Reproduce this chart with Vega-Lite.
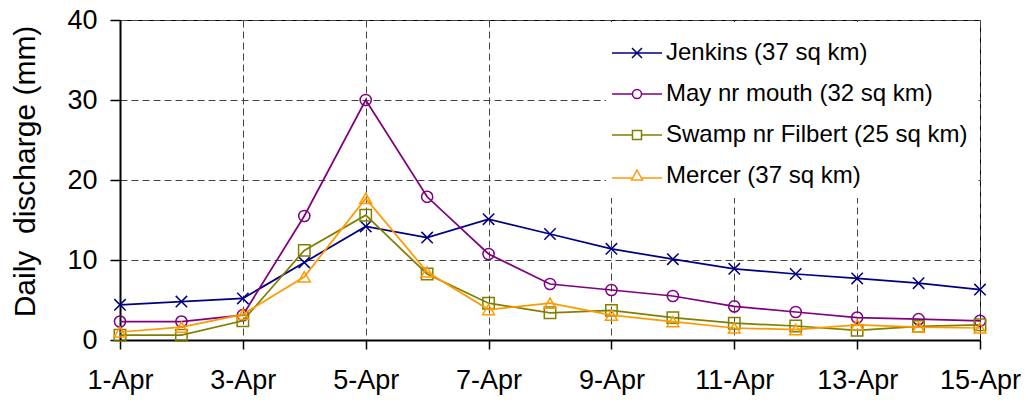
{
  "$schema": "https://vega.github.io/schema/vega-lite/v6.json",
  "width": 860,
  "height": 320,
  "autosize": {"type": "none"},
  "padding": {"left": 120, "top": 20, "right": 54, "bottom": 60},
  "background": "white",
  "config": {
    "view": {"stroke": "black", "strokeWidth": 1},
    "axis": {
      "domainColor": "black",
      "domainWidth": 2,
      "tickColor": "black",
      "tickWidth": 1.5,
      "gridColor": "#444",
      "gridWidth": 1,
      "gridDash": [7, 4],
      "labelFont": "Liberation Sans",
      "labelFontSize": 27,
      "labelColor": "black",
      "titleFont": "Liberation Sans",
      "titleColor": "black",
      "titleFontWeight": "normal"
    }
  },
  "data": {
    "values": [
      {"d": 1, "s": "Jenkins (37 sq km)", "v": 4.4},
      {"d": 2, "s": "Jenkins (37 sq km)", "v": 4.8},
      {"d": 3, "s": "Jenkins (37 sq km)", "v": 5.2},
      {"d": 4, "s": "Jenkins (37 sq km)", "v": 9.7},
      {"d": 5, "s": "Jenkins (37 sq km)", "v": 14.2},
      {"d": 6, "s": "Jenkins (37 sq km)", "v": 12.8},
      {"d": 7, "s": "Jenkins (37 sq km)", "v": 15.1},
      {"d": 8, "s": "Jenkins (37 sq km)", "v": 13.25},
      {"d": 9, "s": "Jenkins (37 sq km)", "v": 11.4},
      {"d": 10, "s": "Jenkins (37 sq km)", "v": 10.1},
      {"d": 11, "s": "Jenkins (37 sq km)", "v": 8.9},
      {"d": 12, "s": "Jenkins (37 sq km)", "v": 8.25},
      {"d": 13, "s": "Jenkins (37 sq km)", "v": 7.7},
      {"d": 14, "s": "Jenkins (37 sq km)", "v": 7.1},
      {"d": 15, "s": "Jenkins (37 sq km)", "v": 6.3},
      {"d": 1, "s": "May nr mouth (32 sq km)", "v": 2.3},
      {"d": 2, "s": "May nr mouth (32 sq km)", "v": 2.3},
      {"d": 3, "s": "May nr mouth (32 sq km)", "v": 3.1},
      {"d": 4, "s": "May nr mouth (32 sq km)", "v": 15.5},
      {"d": 5, "s": "May nr mouth (32 sq km)", "v": 30.0},
      {"d": 6, "s": "May nr mouth (32 sq km)", "v": 17.9},
      {"d": 7, "s": "May nr mouth (32 sq km)", "v": 10.75},
      {"d": 8, "s": "May nr mouth (32 sq km)", "v": 7.0},
      {"d": 9, "s": "May nr mouth (32 sq km)", "v": 6.25},
      {"d": 10, "s": "May nr mouth (32 sq km)", "v": 5.5},
      {"d": 11, "s": "May nr mouth (32 sq km)", "v": 4.2},
      {"d": 12, "s": "May nr mouth (32 sq km)", "v": 3.5},
      {"d": 13, "s": "May nr mouth (32 sq km)", "v": 2.8},
      {"d": 14, "s": "May nr mouth (32 sq km)", "v": 2.6},
      {"d": 15, "s": "May nr mouth (32 sq km)", "v": 2.4},
      {"d": 1, "s": "Swamp nr Filbert (25 sq km)", "v": 0.6},
      {"d": 2, "s": "Swamp nr Filbert (25 sq km)", "v": 0.6},
      {"d": 3, "s": "Swamp nr Filbert (25 sq km)", "v": 2.4},
      {"d": 4, "s": "Swamp nr Filbert (25 sq km)", "v": 11.2},
      {"d": 5, "s": "Swamp nr Filbert (25 sq km)", "v": 15.6},
      {"d": 6, "s": "Swamp nr Filbert (25 sq km)", "v": 8.25},
      {"d": 7, "s": "Swamp nr Filbert (25 sq km)", "v": 4.6},
      {"d": 8, "s": "Swamp nr Filbert (25 sq km)", "v": 3.4},
      {"d": 9, "s": "Swamp nr Filbert (25 sq km)", "v": 3.7},
      {"d": 10, "s": "Swamp nr Filbert (25 sq km)", "v": 2.8},
      {"d": 11, "s": "Swamp nr Filbert (25 sq km)", "v": 2.1},
      {"d": 12, "s": "Swamp nr Filbert (25 sq km)", "v": 1.75},
      {"d": 13, "s": "Swamp nr Filbert (25 sq km)", "v": 1.2},
      {"d": 14, "s": "Swamp nr Filbert (25 sq km)", "v": 1.7},
      {"d": 15, "s": "Swamp nr Filbert (25 sq km)", "v": 1.9},
      {"d": 1, "s": "Mercer (37 sq km)", "v": 1.0},
      {"d": 2, "s": "Mercer (37 sq km)", "v": 1.6},
      {"d": 3, "s": "Mercer (37 sq km)", "v": 3.2},
      {"d": 4, "s": "Mercer (37 sq km)", "v": 7.9},
      {"d": 5, "s": "Mercer (37 sq km)", "v": 17.7},
      {"d": 6, "s": "Mercer (37 sq km)", "v": 8.5},
      {"d": 7, "s": "Mercer (37 sq km)", "v": 3.8},
      {"d": 8, "s": "Mercer (37 sq km)", "v": 4.6},
      {"d": 9, "s": "Mercer (37 sq km)", "v": 3.1},
      {"d": 10, "s": "Mercer (37 sq km)", "v": 2.3},
      {"d": 11, "s": "Mercer (37 sq km)", "v": 1.5},
      {"d": 12, "s": "Mercer (37 sq km)", "v": 1.3},
      {"d": 13, "s": "Mercer (37 sq km)", "v": 1.9},
      {"d": 14, "s": "Mercer (37 sq km)", "v": 1.6},
      {"d": 15, "s": "Mercer (37 sq km)", "v": 1.5}
    ]
  },
  "encoding": {
    "x": {
      "field": "d",
      "type": "quantitative",
      "scale": {"domain": [1, 15], "nice": false, "zero": false},
      "axis": {
        "title": null,
        "values": [1, 3, 5, 7, 9, 11, 13, 15],
        "labelExpr": "datum.value + '-Apr'",
        "tickSize": 9,
        "labelPadding": 18,
        "labelOverlap": false,
        "labelFlush": false,
        "labelBound": false
      }
    },
    "y": {
      "field": "v",
      "type": "quantitative",
      "scale": {"domain": [0, 40], "nice": false},
      "axis": {
        "values": [0, 10, 20, 30, 40],
        "tickSize": 10,
        "labelPadding": 13,
        "title": "Daily\u00a0 discharge (mm)",
        "titleFontSize": 30,
        "titleAngle": -90,
        "titleAlign": "center",
        "titleBaseline": "alphabetic",
        "titleX": -86,
        "titleY": 151
      }
    }
  },
  "layer": [
    {
      "transform": [{"filter": "datum.s == 'Jenkins (37 sq km)'"}],
      "mark": {"type": "line", "strokeWidth": 1.75, "color": "#000080"},
      "encoding": {}
    },
    {
      "transform": [{"filter": "datum.s == 'Jenkins (37 sq km)'"}],
      "mark": {"type": "point", "filled": false, "strokeWidth": 1.5, "size": 130, "opacity": 1, "shape": "M-1,-1L1,1M-1,1L1,-1", "color": "#000080"},
      "encoding": {}
    },
    {
      "transform": [{"filter": "datum.s == 'May nr mouth (32 sq km)'"}],
      "mark": {"type": "line", "strokeWidth": 1.75, "color": "#800080"},
      "encoding": {}
    },
    {
      "transform": [{"filter": "datum.s == 'May nr mouth (32 sq km)'"}],
      "mark": {"type": "point", "filled": false, "strokeWidth": 1.5, "size": 125, "opacity": 1, "shape": "circle", "color": "#800080"},
      "encoding": {}
    },
    {
      "transform": [{"filter": "datum.s == 'Swamp nr Filbert (25 sq km)'"}],
      "mark": {"type": "line", "strokeWidth": 1.75, "color": "#808000"},
      "encoding": {}
    },
    {
      "transform": [{"filter": "datum.s == 'Swamp nr Filbert (25 sq km)'"}],
      "mark": {"type": "point", "filled": false, "strokeWidth": 1.5, "size": 130, "opacity": 1, "shape": "square", "color": "#808000"},
      "encoding": {}
    },
    {
      "transform": [{"filter": "datum.s == 'Mercer (37 sq km)'"}],
      "mark": {"type": "line", "strokeWidth": 1.75, "color": "#FF9900"},
      "encoding": {}
    },
    {
      "transform": [{"filter": "datum.s == 'Mercer (37 sq km)'"}],
      "mark": {"type": "point", "filled": false, "strokeWidth": 1.5, "size": 140, "opacity": 1, "shape": "triangle-up", "color": "#FF9900"},
      "encoding": {}
    },
    {
      "transform": [{"filter": "datum.d == 1"}],
      "mark": {"type": "point", "filled": false, "strokeOpacity": 0, "size": 1600},
      "encoding": {
        "color": {
          "field": "s",
          "type": "nominal",
          "scale": {
            "domain": ["Jenkins (37 sq km)", "May nr mouth (32 sq km)", "Swamp nr Filbert (25 sq km)", "Mercer (37 sq km)"],
            "range": ["#000080", "#800080", "#808000", "#FF9900"]
          },
          "legend": {
            "orient": "none", "legendX": 486, "legendY": 2, "title": null,
            "symbolSize": 1600, "labelFontSize": 24, "labelFont": "Liberation Sans",
            "labelColor": "black", "labelOffset": 8, "rowPadding": 8, "padding": 10,
            "fillColor": "white",
            "labelLimit": 400, "symbolOpacity": 1, "symbolStrokeWidth": 1.5,
            "symbolFillColor": "transparent"
          }
        },
        "shape": {
          "field": "s",
          "type": "nominal",
          "scale": {
            "domain": ["Jenkins (37 sq km)", "May nr mouth (32 sq km)", "Swamp nr Filbert (25 sq km)", "Mercer (37 sq km)"],
            "range": [
              "M-1.25,0H1.25M-0.25,-0.25L0.25,0.25M-0.25,0.25L0.25,-0.25",
              "M-1.25,0H-0.225M0.225,0H1.25M0.225,0A0.225,0.225,0,1,1,-0.225,0A0.225,0.225,0,1,1,0.225,0Z",
              "M-1.25,0H-0.225M0.225,0H1.25M-0.225,-0.225H0.225V0.225H-0.225Z",
              "M-1.25,0.1H-0.21M0.21,0.1H1.25M0,-0.3L0.27,0.2H-0.27Z"
            ]
          },
          "legend": {
            "orient": "none", "legendX": 486, "legendY": 2, "title": null,
            "symbolSize": 1600, "labelFontSize": 24, "labelFont": "Liberation Sans",
            "labelColor": "black", "labelOffset": 8, "rowPadding": 8, "padding": 10,
            "fillColor": "white",
            "labelLimit": 400, "symbolOpacity": 1, "symbolStrokeWidth": 1.5,
            "symbolFillColor": "transparent"
          }
        }
      }
    }
  ]
}
